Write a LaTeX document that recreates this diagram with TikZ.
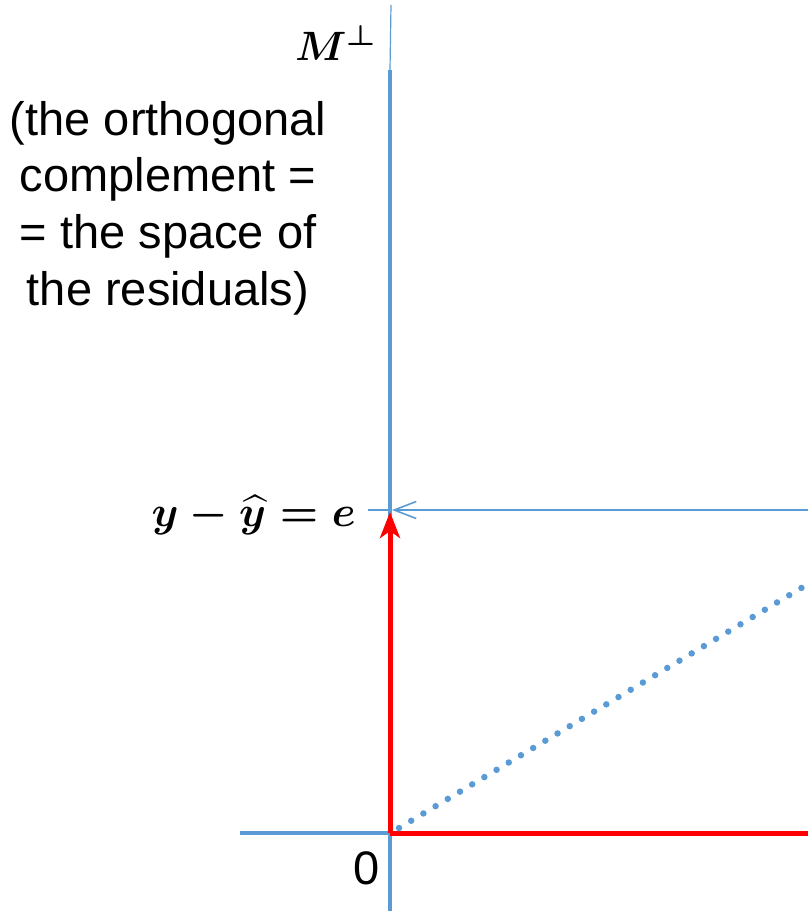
\documentclass[tikz,border=0pt]{standalone}
\usepackage{fontspec}
\usepackage{amsmath}
\setmainfont{Liberation Sans}
\usetikzlibrary{arrows.meta}
\definecolor{axblue}{HTML}{5B9BD5}
\definecolor{vecred}{HTML}{FF0000}
\tikzset{
  axis/.style={draw=axblue,line width=4pt},
  thinax/.style={draw=axblue,line width=1.6pt},
  redvec/.style={draw=vecred,line width=5pt},
  lbl/.style={inner sep=0pt,font=\fontsize{47}{56.7}\selectfont},
  mlbl/.style={inner sep=0pt,font=\boldmath}
}
\begin{document}
\begin{tikzpicture}[x=1pt,y=-1pt]
\useasboundingbox (0,0) rectangle (808,911);
\coordinate (O) at (390,833);
\coordinate (top) at (390,70);
\coordinate (topthin) at (391,5);
\coordinate (bot) at (390,911);
\coordinate (left) at (240,833);
\coordinate (right) at (808,833);
\coordinate (E) at (390,510);
\coordinate (Et) at (368,510);
\coordinate (Er) at (808,510);
\coordinate (D0) at (399,828);
\coordinate (D1) at (808,584);
% axes
\draw[thinax,line width=1.2pt] (topthin) -- (top);
\draw[axis] (top) -- (bot);
\draw[axis] (left) -- (O);
\draw[redvec] (O) -- (right);
% dotted line
\draw[axblue,line width=6.5pt,line cap=round,dash pattern=on 0pt off 14.2pt] (D0) -- (D1);
% thin arrow
\draw[thinax] (Et) -- (E);
\draw[thinax,-{Straight Barb[length=22pt,width=17pt,line width=1.6pt]}] (Er) -- ([xshift=2pt]E);
% red arrow
\draw[redvec,-{Stealth[length=26pt,width=20pt,inset=7pt]}] (O) -- ([yshift=-2pt]E);
% labels
\node[mlbl,anchor=east] (Mp) at (378,43) {\scalebox{4.1}{$M^{\perp}$}};
\node[lbl,align=center] (desc) at (168,208) {(the orthogonal\\complement =\\= the space of\\the residuals)};
\node[mlbl,anchor=east] (eq) at (356,515) {\scalebox{4.3}{$y-\widehat{y}=e$}};
\node[lbl] (zero) at (367,868) {0};
\end{tikzpicture}
\end{document}
